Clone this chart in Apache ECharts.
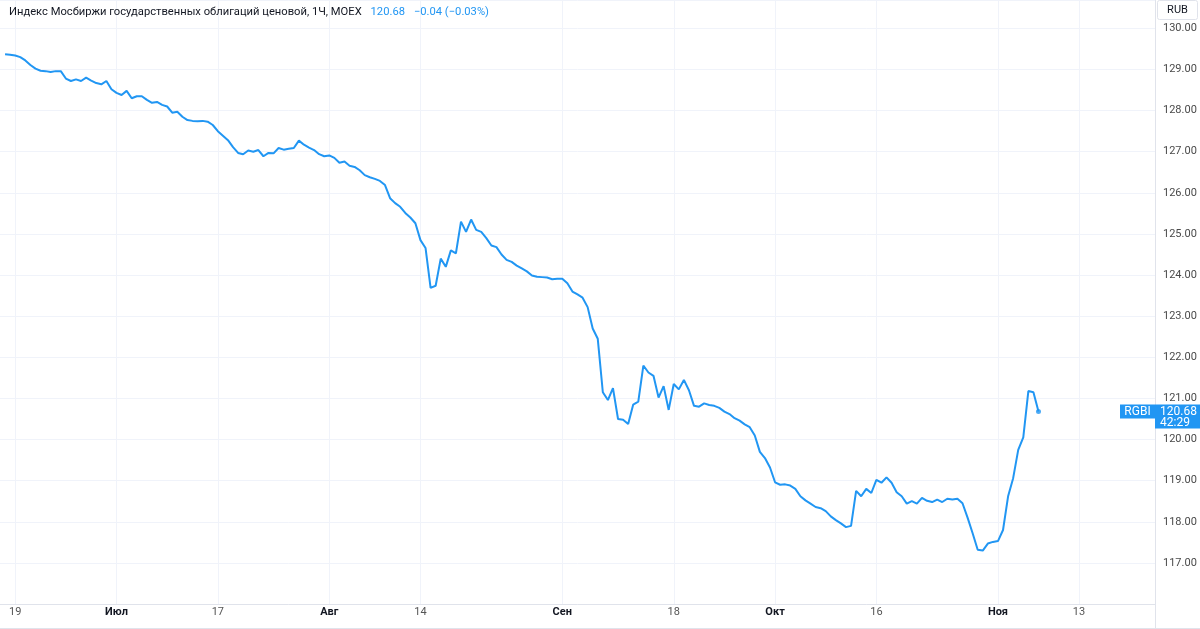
<!DOCTYPE html>
<html><head><meta charset="utf-8">
<script src="https://cdn.jsdelivr.net/npm/echarts@6/dist/echarts.min.js"></script>
<style>html,body{margin:0;padding:0;background:#fff}#c{width:1200px;height:629px}</style>
</head><body><div id="c"></div>
<script>
// ---- texts ----
const titleText = 'Индекс Мосбиржи государственных облигаций ценовой, 1Ч, MOEX';
const lastPriceText = '120.68';
const changeText = '\u22120.04 (\u22120.03%)';
const tickerName = 'RGBI';
const timerText = '42:29';
const currencyText = 'RUB';

// ---- time axis: trading half-sessions, weekdays from first to last date ----
const firstDay = '2023-06-15';
const lastDay = '2023-11-22';
const sessions = ['10:00', '15:00'];

// ---- tick labels (first session of the day) ----
const tickDates = ['19.06', '03.07', '17.07', '01.08', '14.08', '01.09', '18.09', '02.10', '16.10', '01.11', '13.11'];
const tickLabels = ['19', 'Июл', '17', 'Авг', '14', 'Сен', '18', 'Окт', '16', 'Ноя', '13'];

// ---- y axis ticks ----
const yMin = 116, yMax = 130.69, yStep = 1;

// ---- series: index value, one per half-session, starting 15.06 15:00 ----
const values = [null,
  129.37,129.36,129.34,129.30,129.22,129.11,129.02,128.97,128.96,128.94,
  128.96,128.96,128.78,128.72,128.76,128.72,128.80,128.73,128.67,128.64,
  128.72,128.52,128.43,128.38,128.48,128.30,128.35,128.35,128.26,128.19,
  128.21,128.14,128.10,127.95,127.97,127.85,127.77,127.75,127.74,127.75,
  127.73,127.65,127.50,127.39,127.28,127.11,126.97,126.94,127.03,127.00,
  127.04,126.89,126.97,126.96,127.09,127.05,127.07,127.09,127.27,127.17,
  127.10,127.04,126.94,126.89,126.91,126.85,126.73,126.76,126.66,126.63,
  126.55,126.43,126.38,126.34,126.29,126.19,125.87,125.75,125.66,125.51,
  125.40,125.26,124.85,124.66,123.69,123.74,124.40,124.20,124.60,124.53,
  125.30,125.05,125.35,125.10,125.05,124.90,124.72,124.68,124.50,124.37,
  124.32,124.23,124.16,124.09,123.99,123.96,123.95,123.94,123.90,123.91,
  123.91,123.80,123.60,123.53,123.45,123.22,122.70,122.45,121.15,120.96,
  121.25,120.50,120.48,120.38,120.85,120.92,121.80,121.63,121.55,121.02,
  121.30,120.72,121.35,121.22,121.45,121.20,120.82,120.80,120.88,120.84,
  120.82,120.77,120.68,120.62,120.52,120.46,120.37,120.30,120.10,119.70,
  119.55,119.32,118.96,118.90,118.91,118.88,118.80,118.62,118.52,118.44,
  118.36,118.33,118.26,118.13,118.04,117.96,117.87,117.90,118.75,118.62,
  118.80,118.70,119.02,118.95,119.08,118.95,118.72,118.62,118.44,118.50,
  118.44,118.58,118.51,118.48,118.54,118.48,118.56,118.54,118.56,118.45,
  118.10,117.72,117.32,117.30,117.47,117.51,117.53,117.80,118.62,119.06,
  119.75,120.05,121.18,121.15,120.68
];

// build categories
const categories = [];
(function () {
  const d = new Date(firstDay + 'T00:00:00Z');
  const end = new Date(lastDay + 'T00:00:00Z');
  while (d <= end) {
    const wd = d.getUTCDay();
    if (wd !== 0 && wd !== 6) {
      const dd = String(d.getUTCDate()).padStart(2, '0');
      const mm = String(d.getUTCMonth() + 1).padStart(2, '0');
      sessions.forEach(s => categories.push(dd + '.' + mm + ' ' + s));
    }
    d.setUTCDate(d.getUTCDate() + 1);
  }
  categories.shift(); // chart starts at 15.06 second session
})();

const tickMap = {};
tickDates.forEach((t, i) => { tickMap[t + ' ' + sessions[0]] = tickLabels[i]; });
const isTick = (idx, val) => Object.prototype.hasOwnProperty.call(tickMap, val);

const lastIdx = values.length - 1;
const endDot = values.map((v, i) => (i === lastIdx ? v : null));

const BLUE = '#2196f3';
const GRID = '#f0f3fa';
const BORDER = '#e0e3eb';
const FONT = 'Roboto, "Noto Sans", sans-serif';

const chart = echarts.init(document.getElementById('c'), null, { renderer: 'canvas' });
chart.setOption({
  animation: false,
  backgroundColor: '#ffffff',
  textStyle: { fontFamily: FONT },
  title: {
    left: 9, top: 3, padding: 0,
    text: '{t|' + titleText + '}  {v|' + lastPriceText + '}  {v|' + changeText + '}',
    textStyle: {
      fontWeight: 'normal',
      rich: {
        t: { fontSize: 11.2, color: '#131722', fontFamily: FONT, fontWeight: 'normal' },
        v: { fontSize: 11.2, color: BLUE, fontFamily: FONT, fontWeight: 'normal' }
      }
    }
  },
  grid: { left: 0, right: 45, top: 0, bottom: 25, containLabel: false },
  xAxis: {
    type: 'category',
    data: categories,
    boundaryGap: false,
    axisLine: { show: true, lineStyle: { color: BORDER } },
    axisTick: { show: false },
    axisLabel: {
      interval: isTick,
      margin: 3,
      fontSize: 11,
      formatter: v => {
        const l = tickMap[v];
        if (l === undefined) return '';
        return /^\d+$/.test(l) ? '{d|' + l + '}' : '{m|' + l + '}';
      },
      rich: {
        d: { fontSize: 11, color: '#555555', fontFamily: FONT },
        m: { fontSize: 11, color: '#131722', fontWeight: 'bold', fontFamily: FONT }
      }
    },
    splitLine: { show: true, interval: isTick, lineStyle: { color: GRID, width: 1 } }
  },
  yAxis: {
    type: 'value',
    position: 'right',
    min: yMin, max: yMax, interval: yStep,
    axisLine: { show: true, lineStyle: { color: BORDER } },
    axisTick: { show: false },
    axisLabel: {
      margin: 8, fontSize: 11, color: '#4a4a4a',
      formatter: v => (Math.abs(v - Math.round(v)) < 1e-6 && v > yMin + 0.5) ? v.toFixed(2) : ''
    },
    splitLine: { show: true, lineStyle: { color: GRID, width: 1 } }
  },
  series: [
    {
      type: 'line', data: values, showSymbol: false, connectNulls: false,
      lineStyle: { color: BLUE, width: 2 }, itemStyle: { color: BLUE },
      z: 3
    },
    {
      type: 'scatter', data: endDot, symbol: 'circle', symbolSize: 5,
      itemStyle: { color: BLUE }, z: 4
    }
  ]
});

// price labels at the last value, positioned through the axis scale
const py = chart.convertToPixel({ yAxisIndex: 0 }, values[lastIdx]);
chart.setOption({
  graphic: [
    { type: 'line', shape: { x1: 1155.5, y1: 0, x2: 1155.5, y2: 629 }, style: { stroke: BORDER, lineWidth: 1 }, z: 50 },
    { type: 'line', shape: { x1: 0, y1: 628.5, x2: 1200, y2: 628.5 }, style: { stroke: BORDER, lineWidth: 1 }, z: 50 },
    { type: 'rect', shape: { x: 1157.5, y: 0.5, width: 40, height: 19, r: 2 }, style: { fill: '#ffffff', stroke: BORDER, lineWidth: 1 }, z: 60 },
    { type: 'text', x: 1177.5, y: 10, style: { text: currencyText, fill: '#131722', font: '11px ' + FONT, textAlign: 'center', textVerticalAlign: 'middle' }, z: 61 },
    { type: 'rect', shape: { x: 1120, y: py - 7, width: 35, height: 14 }, style: { fill: BLUE }, z: 60 },
    { type: 'text', x: 1137.5, y: py, style: { text: tickerName, fill: '#ffffff', font: '12px ' + FONT, textAlign: 'center', textVerticalAlign: 'middle' }, z: 61 },
    { type: 'rect', shape: { x: 1155, y: py - 7, width: 45, height: 24 }, style: { fill: BLUE }, z: 60 },
    { type: 'text', x: 1160, y: py, style: { text: lastPriceText, fill: '#ffffff', font: '12px ' + FONT, textAlign: 'left', textVerticalAlign: 'middle' }, z: 61 },
    { type: 'text', x: 1160, y: py + 11, style: { text: timerText, fill: '#ffffff', font: '12px ' + FONT, textAlign: 'left', textVerticalAlign: 'middle' }, z: 61 }
  ]
});
</script>
</body></html>
